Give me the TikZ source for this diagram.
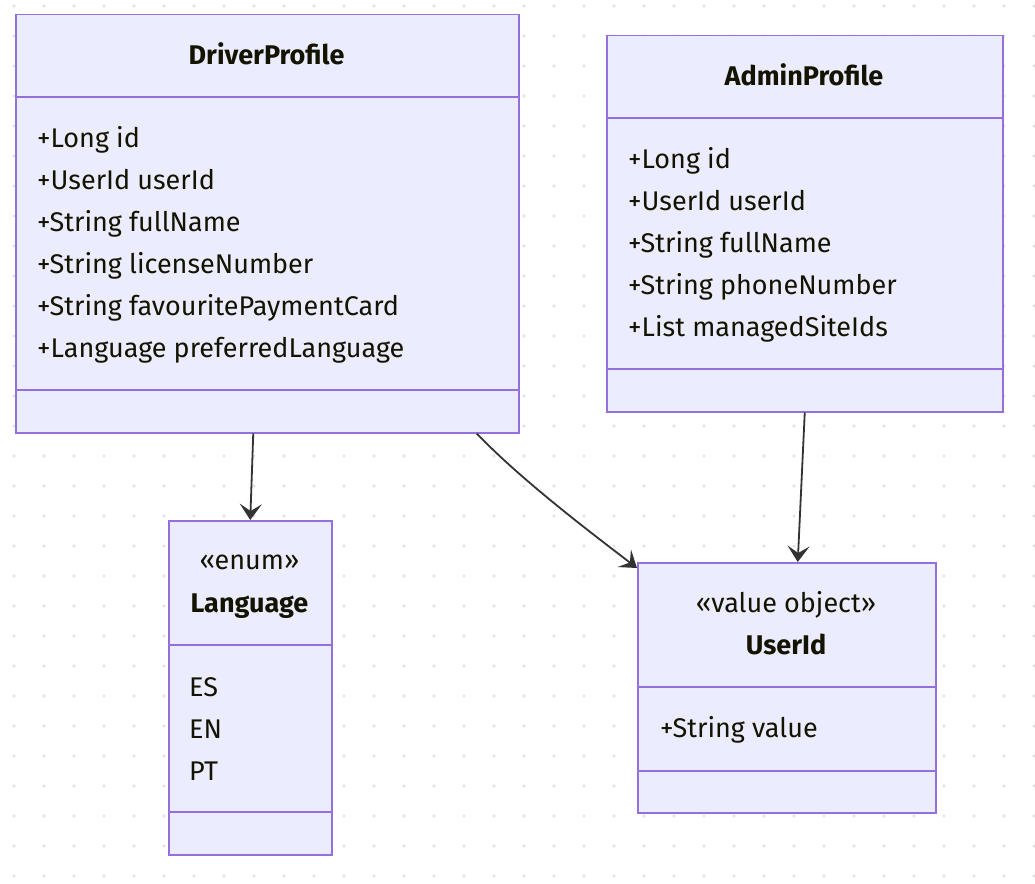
\documentclass[tikz,border=0pt]{standalone}
\usepackage{fontspec}
\setmainfont{Fira Sans}
\usetikzlibrary{arrows.meta}
\definecolor{boxfill}{HTML}{ECECFF}
\definecolor{boxline}{HTML}{9370DB}
\definecolor{txt}{HTML}{131300}
\definecolor{edge}{HTML}{333333}
\definecolor{dotc}{HTML}{E0E0E0}
\begin{document}
\begin{tikzpicture}[x=1pt,y=-1pt,
  classbox/.style={draw=boxline, fill=boxfill, line width=1.5pt, anchor=north west, inner sep=0pt},
  divider/.style={draw=boxline, line width=1.2pt},
  lbl/.style={anchor=base west, inner sep=0pt, text=txt, font=\fontsize{27}{32}\selectfont},
  ttl/.style={anchor=base, inner sep=0pt, text=txt, font=\fontsize{27}{32}\selectfont\bfseries},
  stereo/.style={anchor=base, inner sep=0pt, text=txt, font=\fontsize{27}{32}\selectfont},
  assoc/.style={draw=edge, line width=1.8pt, -{Stealth[length=16pt,width=22pt,inset=7pt]}}
]
\useasboundingbox (0,0) rectangle (1035,883);
\fill[white] (0,0) rectangle (1035,883);
\foreach \i in {0,...,34} {\foreach \j in {0,...,29} {\fill[dotc] (14+30*\i, 6+30*\j) circle[radius=1.6pt];}}

% DriverProfile
\node[classbox, minimum width=503pt, minimum height=418pt] (driver) at (15,14) {};
\draw[divider] (15,97) -- (518,97);
\draw[divider] (15,390) -- (518,390);
\node[ttl] (driverT) at (266.5,64) {DriverProfile};
\node[lbl] (driverA1) at (37,147) {+Long id};
\node[lbl] (driverA2) at (37,189) {+UserId userId};
\node[lbl] (driverA3) at (37,231) {+String fullName};
\node[lbl] (driverA4) at (37,273) {+String licenseNumber};
\node[lbl] (driverA5) at (37,315) {+String favouritePaymentCard};
\node[lbl] (driverA6) at (37,357) {+Language preferredLanguage};

% AdminProfile
\node[classbox, minimum width=396pt, minimum height=376pt] (admin) at (606,35) {};
\draw[divider] (606,118) -- (1002,118);
\draw[divider] (606,369) -- (1002,369);
\node[ttl] (adminT) at (804,85) {AdminProfile};
\node[lbl] (adminA1) at (628,168) {+Long id};
\node[lbl] (adminA2) at (628,210) {+UserId userId};
\node[lbl] (adminA3) at (628,252) {+String fullName};
\node[lbl] (adminA4) at (628,294) {+String phoneNumber};
\node[lbl] (adminA5) at (628,336) {+List managedSiteIds};

% Language
\node[classbox, minimum width=163pt, minimum height=334pt] (lang) at (168,520) {};
\draw[divider] (168,645) -- (331,645);
\draw[divider] (168,812) -- (331,812);
\node[stereo] (langS) at (249.5,569) {«enum»};
\node[ttl] (langT) at (249.5,612) {Language};
\node[lbl] (langA1) at (189,696) {ES};
\node[lbl] (langA2) at (189,738) {EN};
\node[lbl] (langA3) at (189,780) {PT};

% UserId
\node[classbox, minimum width=298pt, minimum height=250pt] (userid) at (637,562) {};
\draw[divider] (637,687) -- (935,687);
\draw[divider] (637,771) -- (935,771);
\node[stereo] (useridS) at (786,612) {«value object»};
\node[ttl] (useridT) at (786,654) {UserId};
\node[lbl] (useridA1) at (660,737) {+String value};

% associations
\draw[assoc] ([xshift=-14pt]driver.south) -- (lang.north);
\draw[assoc] ([xshift=209.5pt]driver.south) .. controls ([xshift=253.5pt,yshift=-46pt]driver.south) and ([xshift=-47pt,yshift=30pt]userid.north west) .. ([yshift=-6pt]userid.north west);
\draw[assoc] (admin.south) -- ([xshift=11pt]userid.north);
\end{tikzpicture}
\end{document}
